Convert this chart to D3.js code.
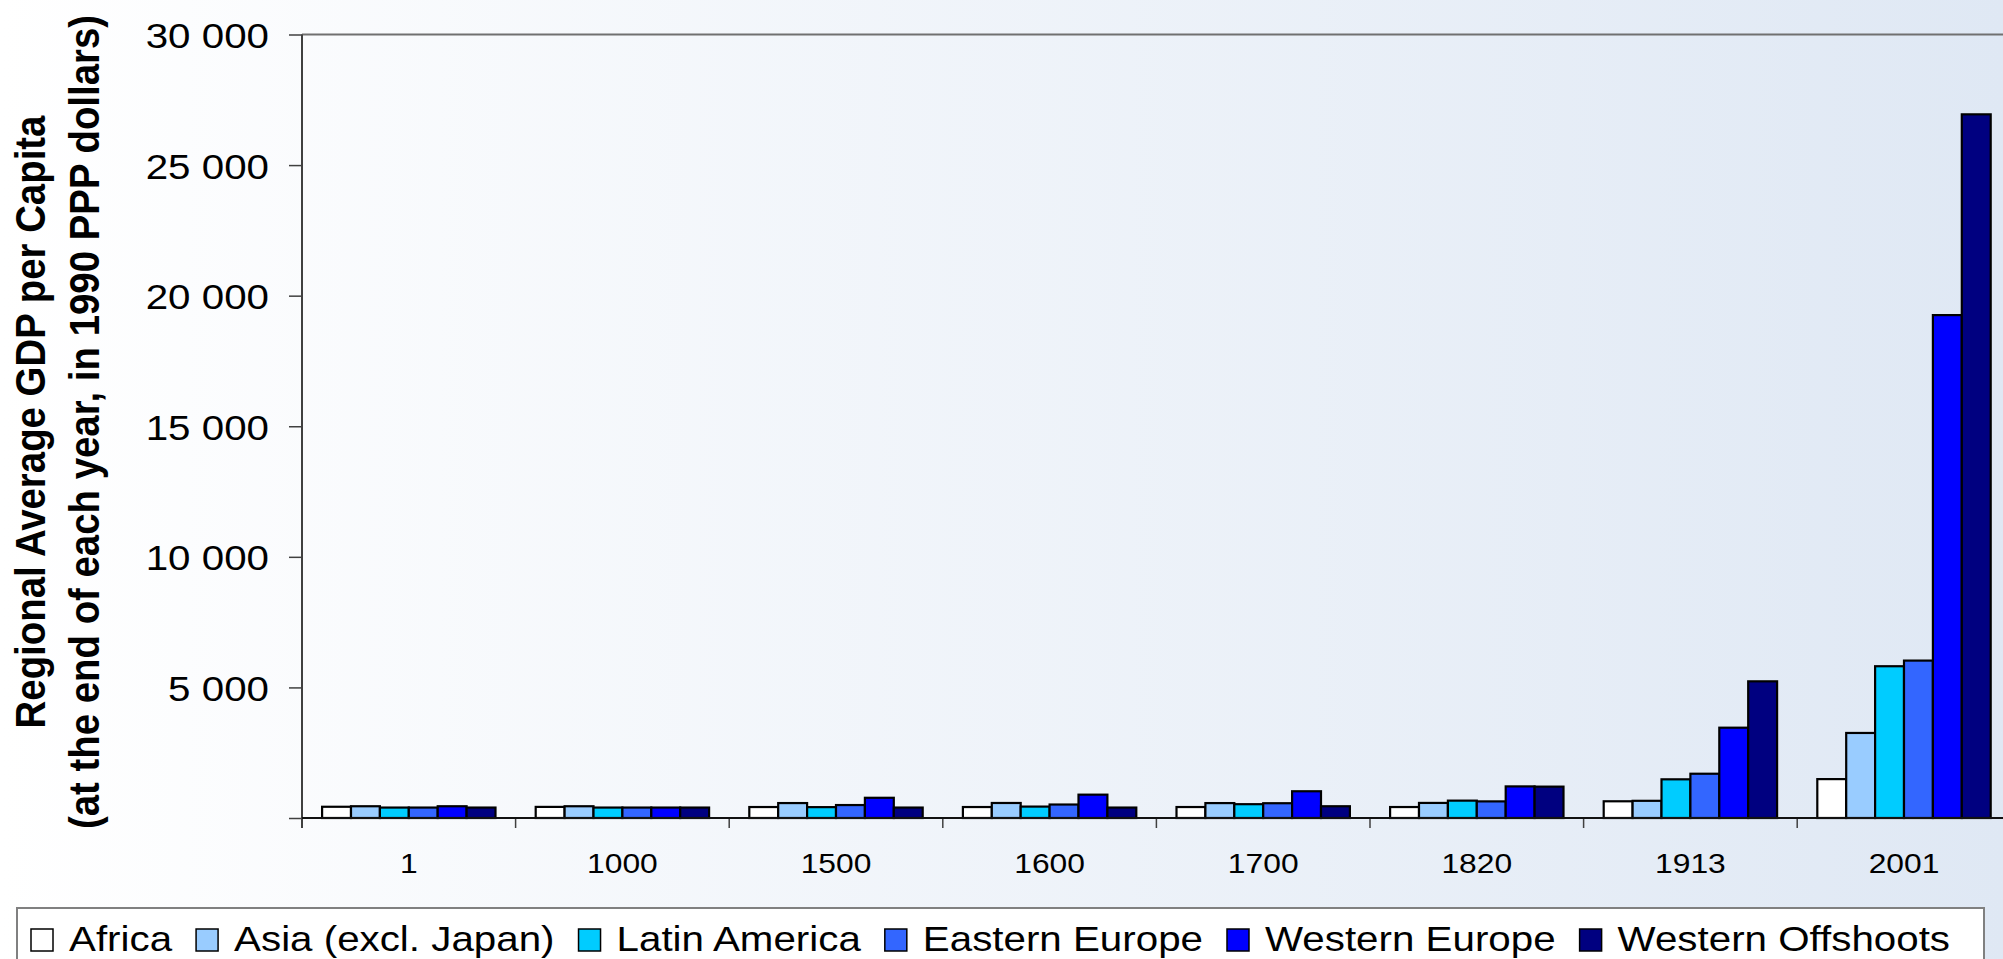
<!DOCTYPE html>
<html>
<head>
<meta charset="utf-8">
<script src="https://cdn.jsdelivr.net/npm/d3@7"></script>
<style>
  body { margin: 0; background: #ffffff; }
  svg { display: block; font-family: Arial, "Liberation Sans", sans-serif; }
</style>
</head>
<body>
<div id="chart"></div>
<script>
const F_WIDTH = 2003;
const F_HEIGHT = 959;

// plot area (the source picture is stretched sideways, so text gets a scaleX)
const PLOT = {left: 302, top: 34.5, bottom: 818, band: 213.6};
const STRETCH = 1.12;

// data
const YEARS = ["1", "1000", "1500", "1600", "1700", "1820", "1913", "2001"];
const REGIONS = ["Africa", "Asia (excl. Japan)", "Latin America", "Eastern Europe", "Western Europe", "Western Offshoots"];
const AFRICA = [430, 425, 420, 420, 420, 420, 640, 1489];
const ASIA = [450, 450, 572, 575, 571, 577, 658, 3256];
const LATIN_AMERICA = [400, 400, 416, 437, 529, 665, 1481, 5811];
const EASTERN_EUROPE = [400, 400, 496, 516, 566, 636, 1695, 6027];
const WESTERN_EUROPE = [450, 400, 774, 894, 1024, 1210, 3458, 19256];
const WESTERN_OFFSHOOTS = [400, 400, 400, 400, 450, 1201, 5233, 26943];
const Y_TICKS = [0, 5000, 10000, 15000, 20000, 25000, 30000];

const SERIES = [AFRICA, ASIA, LATIN_AMERICA, EASTERN_EUROPE, WESTERN_EUROPE, WESTERN_OFFSHOOTS];

const COLORS = d3.scaleOrdinal()
        .domain(REGIONS)
        .range(["#ffffff", "#99ccff", "#00ccff", "#3366ff", "#0000ff", "#000080"]);

const FRAME = d3.select("#chart")
            .append("svg")
              .attr("width", F_WIDTH)
              .attr("height", F_HEIGHT);

// background gradient
const grad = FRAME.append("defs")
    .append("linearGradient")
      .attr("id", "bg")
      .attr("x1", "0").attr("x2", "1").attr("y1", "0").attr("y2", "0");
grad.append("stop").attr("offset", "0").attr("stop-color", "#ffffff");
grad.append("stop").attr("offset", "1").attr("stop-color", "#dfe8f4");

FRAME.append("rect")
    .attr("width", F_WIDTH)
    .attr("height", F_HEIGHT)
    .attr("fill", "url(#bg)");

const X_SCALE = d3.scaleBand()
          .domain(YEARS)
          .range([PLOT.left, PLOT.left + YEARS.length * PLOT.band]);

const SUB_SCALE = d3.scaleBand()
          .domain(REGIONS)
          .range([20.1, PLOT.band - 20.1]);

const Y_SCALE = d3.scaleLinear()
          .domain([0, 30000])
          .range([PLOT.bottom, PLOT.top]);

const fmt = d3.formatLocale({decimal: ".", thousands: " ", grouping: [3], currency: ["", ""]}).format(",");

// top border of plot area
FRAME.append("line")
    .attr("x1", PLOT.left).attr("x2", F_WIDTH)
    .attr("y1", PLOT.top).attr("y2", PLOT.top)
    .attr("stroke", "#707070")
    .attr("stroke-width", 2);

// bars
const groups = FRAME.append("g")
    .selectAll("g")
    .data(YEARS)
    .enter()
    .append("g")
      .attr("transform", (d) => "translate(" + X_SCALE(d) + ",0)");

groups.selectAll("rect")
    .data((d, i) => REGIONS.map((r, j) => ({region: r, value: SERIES[j][i]})))
    .enter()
    .append("rect")
      .attr("x", (d) => SUB_SCALE(d.region))
      .attr("y", (d) => Y_SCALE(d.value))
      .attr("width", SUB_SCALE.bandwidth())
      .attr("height", (d) => PLOT.bottom - Y_SCALE(d.value))
      .attr("fill", (d) => COLORS(d.region))
      .attr("stroke", "#000000")
      .attr("stroke-width", 2.2);

// y-axis
const yAxis = FRAME.append("g")
    .attr("transform", "translate(" + PLOT.left + ",0)")
    .call(d3.axisLeft(Y_SCALE)
            .tickValues(Y_TICKS)
            .tickSize(13)
            .tickSizeOuter(0)
            .tickFormat((d) => d === 0 ? "" : fmt(d)));

yAxis.select(".domain").remove();
yAxis.selectAll("line").attr("stroke", "#404040").attr("stroke-width", 1.5);
yAxis.selectAll("text")
    .attr("x", -33 / STRETCH)
    .attr("dy", "0.36em")
    .attr("transform", "scale(" + STRETCH + ",1)")
    .attr("font-size", 36)
    .attr("fill", "#000000");

FRAME.append("line")
    .attr("x1", PLOT.left).attr("x2", PLOT.left)
    .attr("y1", PLOT.top).attr("y2", PLOT.bottom + 10)
    .attr("stroke", "#404040")
    .attr("stroke-width", 2);

// x-axis: labels at the band centres, ticks on the band edges
const xAxis = FRAME.append("g")
    .attr("transform", "translate(0," + PLOT.bottom + ")")
    .call(d3.axisBottom(X_SCALE).tickSize(0));

xAxis.select(".domain").remove();
xAxis.selectAll("text")
    .attr("y", 54.7)
    .attr("dy", "0")
    .attr("transform", "scale(" + STRETCH + ",1)")
    .attr("font-size", 28.4)
    .attr("fill", "#000000");

FRAME.append("g")
    .selectAll("line")
    .data(YEARS.map((d) => X_SCALE(d)).concat([X_SCALE.range()[1]]))
    .enter()
    .append("line")
      .attr("x1", (d) => d).attr("x2", (d) => d)
      .attr("y1", PLOT.bottom).attr("y2", PLOT.bottom + 10)
      .attr("stroke", "#404040")
      .attr("stroke-width", 1.5);

FRAME.append("line")
    .attr("x1", PLOT.left).attr("x2", F_WIDTH)
    .attr("y1", PLOT.bottom).attr("y2", PLOT.bottom)
    .attr("stroke", "#111111")
    .attr("stroke-width", 2);

// y-axis title, two lines
const TITLE_LINES = ["Regional Average GDP per Capita", "(at the end of each year, in 1990 PPP dollars)"];
FRAME.append("g")
    .selectAll("text")
    .data(TITLE_LINES)
    .enter()
    .append("text")
      .attr("transform", (d, i) => "translate(" + (45 + i * 54) + ",422) rotate(-90) scale(1," + STRETCH + ")")
      .attr("text-anchor", "middle")
      .attr("font-size", 38.4)
      .attr("font-weight", "bold")
      .attr("fill", "#000000")
      .text((d) => d);

// legend
const LEG = {x: 17, y: 908, w: 1967, h: 70, sq: 22};
FRAME.append("rect")
    .attr("x", LEG.x).attr("y", LEG.y)
    .attr("width", LEG.w).attr("height", LEG.h)
    .attr("fill", "#ffffff")
    .attr("stroke", "#808080")
    .attr("stroke-width", 2);

const legItems = FRAME.append("g")
    .selectAll("g")
    .data(REGIONS)
    .enter()
    .append("g");

legItems.append("rect")
    .attr("y", 929)
    .attr("width", LEG.sq)
    .attr("height", LEG.sq)
    .attr("fill", (d) => COLORS(d))
    .attr("stroke", "#000000")
    .attr("stroke-width", 1.5);

legItems.append("text")
    .attr("y", 951)
    .attr("font-size", 36)
    .attr("fill", "#000000")
    .text((d) => d);

// place items one after another, using the measured text widths
let cursor = 31;
legItems.each(function(d) {
  const item = d3.select(this);
  const t = item.select("text");
  const w = t.node().getComputedTextLength() * STRETCH;
  item.select("rect").attr("x", cursor);
  t.attr("transform", "translate(" + (cursor + LEG.sq + 16) + ",0) scale(" + STRETCH + ",1)");
  cursor += LEG.sq + 16 + w + 24;
});
</script>
</body>
</html>
